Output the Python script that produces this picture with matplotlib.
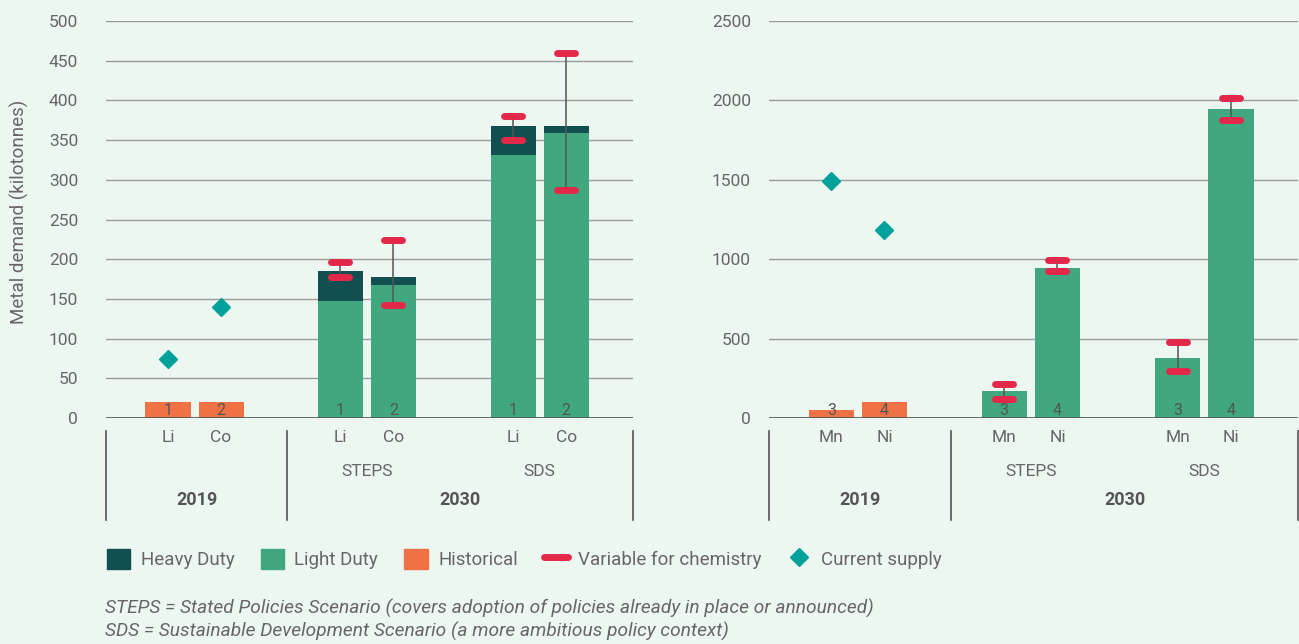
import matplotlib
matplotlib.use("Agg")
import matplotlib.pyplot as plt
from matplotlib.patches import Patch
from matplotlib.lines import Line2D

plt.rcParams['font.family'] = ['Roboto', 'DejaVu Sans']

# ---- data ----
metals_left = ["Li", "Co", "Li", "Co", "Li", "Co"]
metals_right = ["Mn", "Ni", "Mn", "Ni", "Mn", "Ni"]
bar_ids_left = ["1", "2", "1", "2", "1", "2"]
bar_ids_right = ["3", "4", "3", "4", "3", "4"]
scenarios = ["STEPS", "SDS"]
years = ["2019", "2030"]

hist_left = [20, 20]              # 2019 Li, Co
light_left = [147, 168, 331, 359]  # STEPS Li, Co, SDS Li, Co
heavy_left = [38, 10, 37, 9]
low_left = [178, 142, 350, 287]
high_left = [196, 224, 380, 460]
supply_left = [74, 140]

hist_right = [50, 100]             # 2019 Mn, Ni
light_right = [170, 945, 378, 1946]
heavy_right = [0, 0, 0, 0]
low_right = [120, 926, 296, 1876]
high_right = [214, 995, 478, 2015]
supply_right = [1490, 1184]

# ---- style ----
BG = "#ecf7f2"
C_HEAVY = "#114f50"
C_LIGHT = "#40a77e"
C_HIST = "#ef7245"
C_RED = "#e3284a"
C_SUP = "#00a19a"
C_GRID = "#9b9b9b"
C_TXT = "#666666"

pos = [1.17, 2.17, 4.42, 5.42, 7.68, 8.68]
width = 0.85
xmax = 9.94
sep = 3.42

fig = plt.figure(figsize=(12.99, 6.44), dpi=100, facecolor=BG)
ax1 = fig.add_axes([106/1299, 226/644, 527/1299, 397/644])
ax2 = fig.add_axes([769/1299, 226/644, 529/1299, 397/644])


def draw(ax, hist, light, heavy, low, high, supply, metals, ids, ymax, step, pad):
    ax.set_facecolor(BG)
    ax.bar(pos[:2], hist, width, color=C_HIST, zorder=2)
    ax.bar(pos[2:], light, width, color=C_LIGHT, zorder=2)
    ax.bar(pos[2:], heavy, width, bottom=light, color=C_HEAVY, zorder=2)
    ax.vlines(pos[2:], low, high, color="#555555", lw=1.1, zorder=3)
    for x, lo, hi in zip(pos[2:], low, high):
        for yv in (lo, hi):
            ax.plot([x - 0.17, x + 0.17], [yv, yv], color=C_RED, lw=5,
                    solid_capstyle="round", zorder=4)
    ax.plot(pos[:2], supply, linestyle="none", marker="D", markersize=9,
            color=C_SUP, zorder=4)
    for x, t in zip(pos, ids):
        ax.text(x, 0.02, t, transform=ax.get_xaxis_transform(), ha="center",
                va="center", fontsize=11.5, color="#555555", zorder=5)

    ax.set_xlim(0, xmax)
    ax.set_ylim(0, ymax)
    ax.set_yticks(range(0, ymax + 1, step))
    ax.yaxis.grid(True, color=C_GRID, lw=1)
    ax.set_axisbelow(True)
    ax.axhline(0, color="#555555", lw=1.2, zorder=3)
    for s in ax.spines.values():
        s.set_visible(False)
    ax.set_xticks([])
    ax.tick_params(axis="y", length=0, pad=pad, labelsize=12.5, labelcolor=C_TXT)

    tr = ax.get_xaxis_transform()
    for xs in (0, sep, xmax):
        ax.plot([xs, xs], [-0.033, -0.257], transform=tr, color="#555555",
                lw=1.2, clip_on=False)
    for x, m in zip(pos, metals):
        ax.text(x, -0.05, m, transform=tr, ha="center", va="center",
                fontsize=12.5, color=C_TXT)
    ax.text((pos[2] + pos[3]) / 2, -0.134, scenarios[0], transform=tr,
            ha="center", va="center", fontsize=12.5, color=C_TXT)
    ax.text((pos[4] + pos[5]) / 2, -0.134, scenarios[1], transform=tr,
            ha="center", va="center", fontsize=12.5, color=C_TXT)
    ax.text(sep / 2, -0.207, years[0], transform=tr, ha="center", va="center",
            fontsize=13, fontweight="bold", color="#555555")
    ax.text((sep + xmax) / 2, -0.207, years[1], transform=tr, ha="center",
            va="center", fontsize=13, fontweight="bold", color="#555555")


draw(ax1, hist_left, light_left, heavy_left, low_left, high_left, supply_left,
     metals_left, bar_ids_left, 500, 50, 20)
draw(ax2, hist_right, light_right, heavy_right, low_right, high_right,
     supply_right, metals_right, bar_ids_right, 2500, 500, 13)

ax1.set_ylabel("Metal demand (kilotonnes)", fontsize=13.5, color=C_TXT)
ax1.yaxis.set_label_coords(-0.147, 0.52)

handles = [
    Patch(color=C_HEAVY, label="Heavy Duty"),
    Patch(color=C_LIGHT, label="Light Duty"),
    Patch(color=C_HIST, label="Historical"),
    Line2D([], [], color=C_RED, lw=5, solid_capstyle="round",
           label="Variable for chemistry"),
    Line2D([], [], color=C_SUP, marker="D", markersize=9, linestyle="none",
           label="Current supply"),
]
leg = fig.legend(handles=handles, loc="center left",
                 bbox_to_anchor=(90/1299, 1 - 559/644), ncol=5, frameon=False,
                 fontsize=13.5, handlelength=1.25, handleheight=1.25,
                 handletextpad=0.55, columnspacing=1.4, labelcolor=C_TXT)

fig.text(105/1299, 1 - 608/644,
         "STEPS = Stated Policies Scenario (covers adoption of policies already in place or announced)",
         fontsize=13.8, style="italic", color=C_TXT, va="center")
fig.text(105/1299, 1 - 631/644,
         "SDS = Sustainable Development Scenario (a more ambitious policy context)",
         fontsize=13.8, style="italic", color=C_TXT, va="center")

fig.savefig("out.png", dpi=100, facecolor=BG)
